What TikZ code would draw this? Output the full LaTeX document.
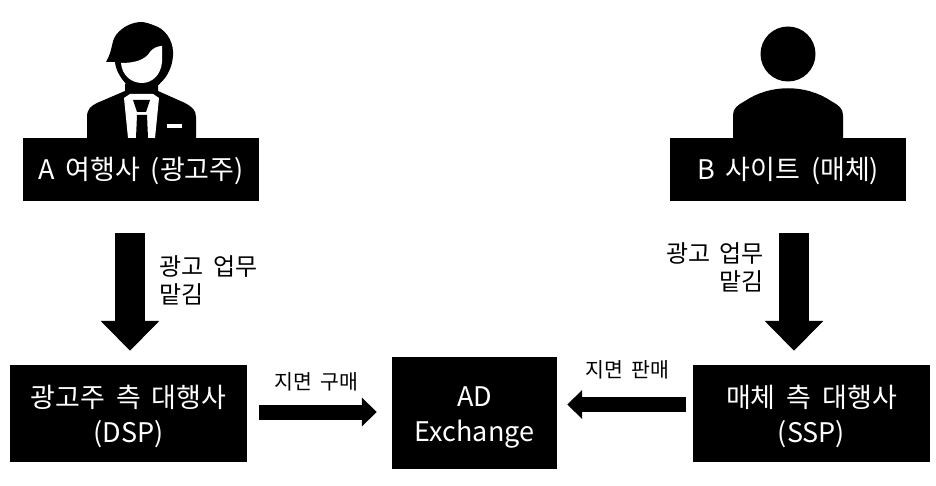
\documentclass[tikz,border=0pt]{standalone}
\usepackage{fontspec}
\setmainfont{Noto Sans CJK KR}[WordSpace=1.8]
\usetikzlibrary{arrows.meta}
\tikzset{
	box/.style = {fill=black, text=white, inner sep=0pt, align=center, font=\fontsize{27}{35}\selectfont},
	tag/.style = {inner sep=0pt, font=\fontsize{24}{28}\selectfont},
	smalltag/.style = {inner sep=0pt, font=\fontsize{20.5}{24}\selectfont},
	bigline/.style = {draw, line width=30pt, -{Triangle[length=30pt,width=57pt]}},
	smallline/.style = {draw, line width=15pt, -{Triangle[length=15pt,width=28pt]}}
}
\begin{document}
\begin{tikzpicture}[x=1pt, y=-1pt]
	\useasboundingbox (0,0) rectangle (936,486);

	% Boxes %
	\node [box, minimum width=236pt, minimum height=63pt, text depth=2pt] (agency) at (141,169.5) {A 여행사 (광고주)};
	\node [box, minimum width=236pt, minimum height=63pt, text depth=2pt] (site) at (788,169.5) {B 사이트 (매체)};
	\node [box, minimum width=237pt, minimum height=97pt] (dsp) at (128.5,413.5) {\\[-6pt]광고주 측 대행사\\(DSP)};
	\node [box, minimum width=165pt, minimum height=112pt] (adx) at (474.5,413) {\\[-6pt]AD\\Exchange};
	\node [box, minimum width=237pt, minimum height=97pt] (ssp) at (811.5,413.5) {\\[-6pt]매체 측 대행사\\(SSP)};

	% Labels %
	\node [tag, align=left] (tagA) at (208.5,280) {광고 업무\\맡김};
	\node [tag, align=right] (tagB) at (715,267) {광고 업무\\맡김};
	\node [smalltag] (tagBuy) at (316.5,382) {지면 구매};
	\node [smalltag] (tagSell) at (627.5,370) {지면 판매};

	% Connection %
	\path [bigline, shorten <=32pt, shorten >=14pt] ([xshift=1.5pt]dsp.north |- agency.south) -- ([xshift=1.5pt]dsp.north);
	\path [bigline, shorten <=32pt, shorten >=14pt] ([xshift=6pt]site.south) -- ([xshift=-17.5pt]ssp.north);
	\path [smallline, shorten <=12pt, shorten >=15pt] ([yshift=1.5pt]dsp.east) -- ([yshift=1.5pt]dsp.east -| adx.west);
	\path [smallline, shorten <=7pt, shorten >=10pt] ([yshift=9pt]ssp.west) -- ([yshift=9pt]ssp.west -| adx.east);

	% Person B %
	\fill (788,54) circle (27.5);
	\fill (733,138) -- (733,115) .. controls (733,108) and (738,105) .. (745,101)
		.. controls (770,84) and (806,84) .. (831,101)
		.. controls (838,105) and (843,108) .. (843,115) -- (843,138) -- cycle;

	% Person A %
	\fill (106,62) .. controls (113,50) and (111,42) .. (116,35)
		.. controls (123,26) and (133,22) .. (142,22)
		.. controls (150,23) and (155,26) .. (158,27)
		.. controls (168,32) and (174,44) .. (173,56)
		.. controls (172,70) and (165,80) .. (156,87)
		-- (129,87) .. controls (122,80) and (116,72) .. (115,62) -- cycle;
	\fill [white] (121,63) .. controls (135,63) and (145,60) .. (150,52)
		.. controls (153,48) and (158,46) .. (162,46)
		-- (162,62) .. controls (161,75) and (152,83) .. (142,83)
		.. controls (131,83) and (122,75) .. (121,63) -- cycle;
	\fill (87,138) -- (87,117) .. controls (87,109) and (91,106) .. (97,103)
		-- (125,91) -- (125,84) -- (158,84) -- (158,91) -- (185,103)
		.. controls (192,107) and (196,110) .. (196,117) -- (196,138) -- cycle;
	\fill [white] (124,98) -- (130,94) -- (153,94) -- (159,98) -- (155,138) -- (128,138) -- cycle;
	\fill (133,100) -- (150,100) -- (146,112) -- (137,112) -- cycle;
	\fill (137,115) -- (147,115) -- (148,138) -- (136,138) -- cycle;
	\fill [white] (167,124) rectangle (182,128);
\end{tikzpicture}
\end{document}
